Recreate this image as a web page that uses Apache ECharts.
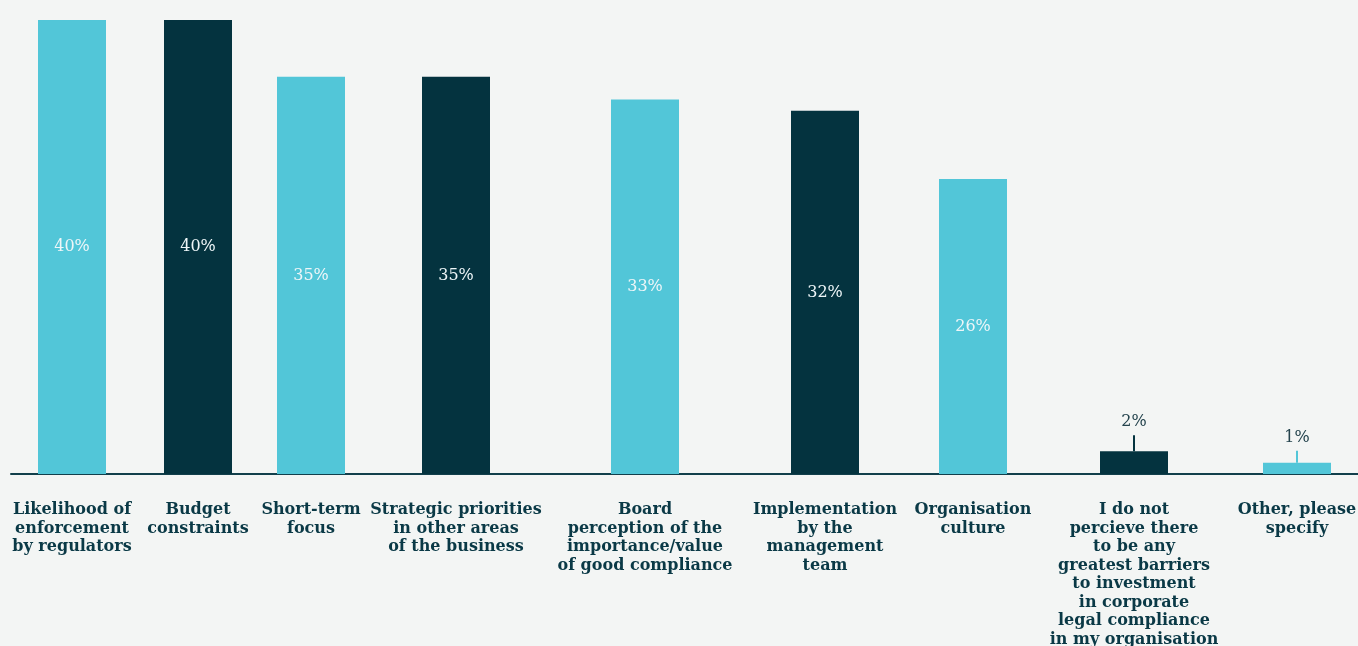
<!DOCTYPE html>
<html>
<head>
<meta charset="utf-8">
<script src="https://cdn.jsdelivr.net/npm/echarts@6/dist/echarts.min.js"></script>
<style>
  html, body { margin: 0; padding: 0; background: #F3F5F4; }
  #chart { width: 1358px; height: 646px; }
</style>
</head>
<body>
<div id="chart"></div>
<script>
// Barriers to investment in corporate legal compliance (share of respondents, %)
const categories = [
  'Likelihood of\nenforcement\nby regulators',
  'Budget\nconstraints',
  'Short-term\nfocus',
  'Strategic priorities\nin other areas\nof the business',
  'Board\nperception of the\nimportance/value\nof good compliance',
  'Implementation\nby the\nmanagement\nteam',
  'Organisation\nculture',
  'I do not\npercieve there\nto be any\ngreatest barriers\nto investment\nin corporate\nlegal compliance\nin my organisation',
  'Other, please\nspecify'
];
const shares = [40, 40, 35, 35, 33, 32, 26, 2, 1];

// Layout: each answer gets its own column, sized to fit its label
const slotWidths = [122, 130, 96, 194, 184, 176, 120, 202, 124];
const startX = 11;
const CYAN = '#52C6D8';
const DARK = '#04333F';
const TEXT = '#0A3946';
const FONT = '"DejaVu Serif", serif';

const grids = [], xAxes = [], yAxes = [], series = [];
let left = startX;
categories.forEach((name, i) => {
  const w = slotWidths[i];
  const color = i % 2 === 0 ? CYAN : DARK;
  grids.push({
    left: left, width: w, top: 20, bottom: 172,
    containLabel: false, outerBoundsMode: 'none'
  });
  left += w;
  xAxes.push({
    type: 'category', gridIndex: i, data: [name], boundaryGap: true,
    axisLine: { show: true, onZero: false, lineStyle: { color: '#123F4B', width: 2 } },
    axisTick: { show: false },
    axisLabel: {
      interval: 0, margin: 27, color: TEXT, fontFamily: FONT,
      fontWeight: 'bold', fontSize: 16, lineHeight: 18.5, align: 'center'
    }
  });
  yAxes.push({ type: 'value', gridIndex: i, min: 0, max: 40, show: false, splitLine: { show: false } });
  // Short bars carry their value above, joined by a thin leader line
  const small = shares[i] < 5;
  const label = small ? {
    show: true, position: 'top', distance: 0,
    formatter: '{v|{c}%}\n{l|}',
    rich: {
      v: { fontFamily: FONT, fontSize: 16, color: '#24434D', lineHeight: 26, align: 'center' },
      l: { width: 2, height: shares[i] < 1.5 ? 12 : 16, backgroundColor: color, align: 'center' }
    }
  } : {
    show: true, position: 'inside', formatter: '{c}%',
    fontFamily: FONT, fontSize: 16, color: '#EEF6F8'
  };
  series.push({
    type: 'bar', xAxisIndex: i, yAxisIndex: i, barWidth: 68,
    data: [shares[i]], itemStyle: { color: color }, label: label,
    silent: true
  });
});

const chart = echarts.init(document.getElementById('chart'));
chart.setOption({
  backgroundColor: '#F3F5F4',
  animation: false,
  grid: grids, xAxis: xAxes, yAxis: yAxes, series: series
});
</script>
</body>
</html>
